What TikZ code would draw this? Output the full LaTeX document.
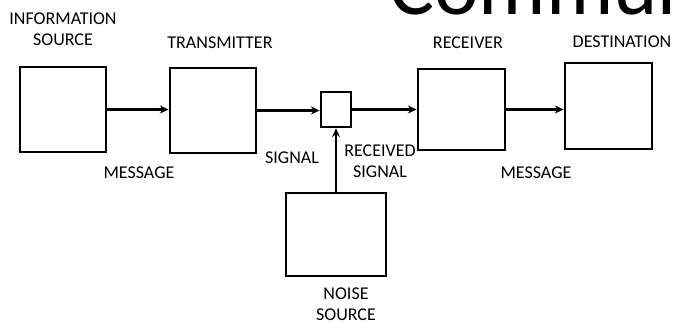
\documentclass[tikz,border=0pt]{standalone}
\usepackage{fontspec}
\setmainfont{Carlito}
\usetikzlibrary{arrows.meta}

\begin{document}
\begin{tikzpicture}[
    x=0.025cm, y=-0.025cm,
    commBox/.style={draw, line width=1.9pt, inner sep=0pt},
    commArrow/.style={line width=1.6pt, -{Stealth[length=0.22cm, width=0.2cm]}},
    commLabel/.style={align=center, inner sep=0pt,
        font=\fontsize{12.8}{15}\selectfont},
    commTitle/.style={anchor=base west, inner sep=0pt,
        font=\fontsize{60}{60}\selectfont}
]
    \useasboundingbox (0,0) rectangle (673,322);
    \clip (0,0) rectangle (673,322);

    % slide title, cut by the frame
    \node[commTitle] (title) at (389,15) {Communication};

    % blocks
    \node[commBox, minimum width=2.15cm, minimum height=2.125cm] (info) at (63,109.5) {};
    \node[commBox, minimum width=2.15cm, minimum height=2.125cm] (trans) at (213,110.5) {};
    \node[commBox, minimum width=0.75cm, minimum height=0.875cm] (mix) at (336,109.5) {};
    \node[commBox, minimum width=2.175cm, minimum height=2.025cm] (rec) at (461.5,109.5) {};
    \node[commBox, minimum width=2.175cm, minimum height=2.15cm] (dest) at (608.5,106) {};
    \node[commBox, minimum width=2.5cm, minimum height=2.075cm] (noise) at (336,234.5) {};

    % labels
    \node[commLabel] (infoLbl) at (63,29) {INFORMATION\\SOURCE};
    \node[commLabel] (transLbl) at (220,43) {TRANSMITTER};
    \node[commLabel] (recLbl) at (468,43) {RECEIVER};
    \node[commLabel] (destLbl) at (622,42) {DESTINATION};
    \node[commLabel] (msgLbl) at (139,173) {MESSAGE};
    \node[commLabel] (sigLbl) at (292,158) {SIGNAL};
    \node[commLabel] (rsigLbl) at (380,161) {RECEIVED\\SIGNAL};
    \node[commLabel] (msgOutLbl) at (536,173) {MESSAGE};
    \node[commLabel] (noiseLbl) at (346,304) {NOISE\\SOURCE};

    % connections
    \draw[commArrow] (info.east) -- (info.east -| trans.west);
    \draw[commArrow] (trans.east) -- (trans.east -| mix.west);
    \draw[commArrow] (mix.east) -- (mix.east -| rec.west);
    \draw[commArrow] (rec.east) -- (rec.east -| dest.west);
    \draw[commArrow] (noise.north) -- (mix.south);
\end{tikzpicture}
\end{document}
